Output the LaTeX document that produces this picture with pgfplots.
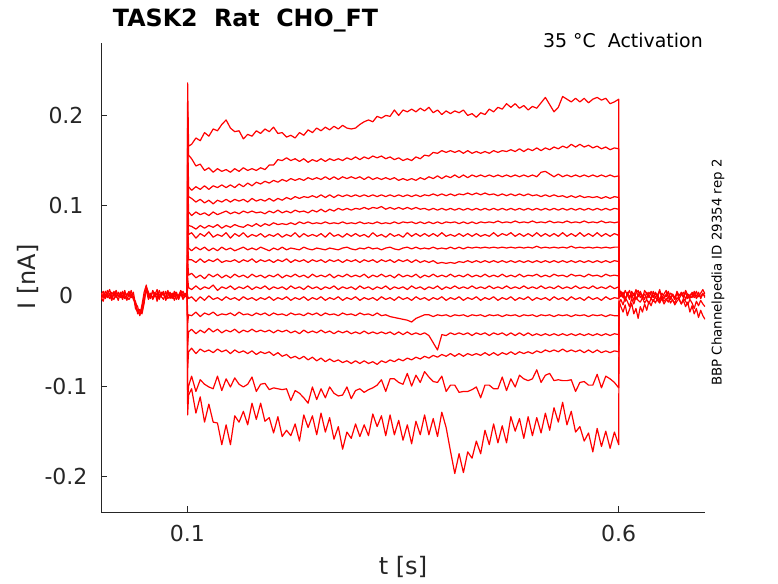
\documentclass[border=0pt]{standalone}
\usepackage{pgfplots}
\pgfplotsset{compat=1.18}
\usepackage{pgfplotstable}
\usepackage{fontspec}
\setmainfont{DejaVu Sans}
\definecolor{mgray}{rgb}{0.15,0.15,0.15}

\pgfplotstableread{
t T1 T2 T3 T4 T5 T6 T7 T8 T9 T10 T11 T12 T13 T14 T15 T16 T17
0.1000 0.002 -0.002 0.001 0.003 -0.001 0 0.002 -0.003 0.001 0 -0.002 0.003 -0.001 0.001 -0.002 0 0.002
0.1004 0.236 0.205 0.180 0.160 0.140 0.120 0.100 0.080 0.060 0.040 0.020 0 -0.030 -0.055 -0.080 -0.115 -0.132
0.1015 0.166 0.156 0.121 0.110 0.093 0.078 0.068 0.053 0.040 0.023 0.009 -0.003 -0.021 -0.040 -0.062 -0.100 -0.110
0.105 0.168 0.152 0.117 0.108 0.089 0.077 0.070 0.050 0.040 0.025 0.007 -0.001 -0.022 -0.037 -0.058 -0.089 -0.103
0.110 0.175 0.144 0.121 0.104 0.093 0.074 0.064 0.054 0.037 0.020 0.011 -0.006 -0.018 -0.042 -0.064 -0.106 -0.130
0.115 0.172 0.146 0.118 0.107 0.090 0.078 0.069 0.051 0.041 0.023 0.007 -0.001 -0.023 -0.038 -0.059 -0.093 -0.112
0.120 0.181 0.139 0.122 0.103 0.092 0.075 0.066 0.054 0.037 0.019 0.010 -0.005 -0.019 -0.041 -0.062 -0.098 -0.140
0.125 0.177 0.142 0.118 0.106 0.089 0.078 0.071 0.050 0.040 0.024 0.008 0 -0.021 -0.036 -0.060 -0.101 -0.120
0.130 0.185 0.137 0.122 0.102 0.093 0.076 0.065 0.053 0.038 0.021 0.012 -0.004 -0.018 -0.040 -0.063 -0.103 -0.140
0.135 0.183 0.141 0.120 0.106 0.090 0.079 0.068 0.050 0.041 0.024 0.006 -0.002 -0.022 -0.037 -0.059 -0.089 -0.141
0.140 0.190 0.138 0.123 0.104 0.092 0.075 0.066 0.054 0.037 0.020 0.010 -0.005 -0.020 -0.041 -0.062 -0.105 -0.165
0.145 0.195 0.140 0.120 0.107 0.094 0.078 0.070 0.051 0.039 0.023 0.008 -0.001 -0.021 -0.038 -0.060 -0.092 -0.143
0.150 0.186 0.137 0.123 0.104 0.091 0.076 0.064 0.053 0.038 0.020 0.011 -0.004 -0.019 -0.040 -0.064 -0.101 -0.165
0.155 0.182 0.141 0.120 0.107 0.093 0.079 0.069 0.050 0.040 0.024 0.007 -0.002 -0.022 -0.037 -0.060 -0.091 -0.133
0.160 0.183 0.138 0.124 0.105 0.091 0.077 0.066 0.052 0.037 0.021 0.010 -0.005 -0.018 -0.041 -0.063 -0.098 -0.140
0.165 0.174 0.142 0.121 0.107 0.094 0.076 0.070 0.054 0.040 0.023 0.008 -0.001 -0.021 -0.038 -0.061 -0.101 -0.128
0.170 0.179 0.139 0.125 0.104 0.092 0.079 0.065 0.051 0.038 0.020 0.011 -0.004 -0.020 -0.040 -0.064 -0.098 -0.143
0.175 0.177 0.141 0.122 0.108 0.094 0.077 0.068 0.053 0.041 0.024 0.007 -0.002 -0.022 -0.037 -0.061 -0.090 -0.119
0.180 0.183 0.139 0.126 0.105 0.092 0.080 0.066 0.051 0.037 0.021 0.010 -0.005 -0.019 -0.040 -0.065 -0.106 -0.137
0.185 0.180 0.142 0.124 0.107 0.093 0.077 0.069 0.054 0.040 0.023 0.008 -0.002 -0.021 -0.038 -0.062 -0.098 -0.119
0.190 0.185 0.140 0.127 0.105 0.091 0.080 0.065 0.052 0.038 0.020 0.011 -0.004 -0.019 -0.040 -0.064 -0.097 -0.139
0.195 0.182 0.145 0.125 0.108 0.094 0.078 0.068 0.050 0.040 0.023 0.007 -0.001 -0.022 -0.038 -0.062 -0.104 -0.135
0.200 0.187 0.145 0.128 0.105 0.092 0.081 0.066 0.053 0.037 0.021 0.010 -0.005 -0.019 -0.041 -0.066 -0.102 -0.152
0.205 0.180 0.151 0.126 0.108 0.095 0.079 0.069 0.051 0.040 0.024 0.008 -0.002 -0.021 -0.038 -0.063 -0.103 -0.134
0.210 0.181 0.150 0.129 0.106 0.092 0.080 0.065 0.054 0.038 0.020 0.010 -0.004 -0.020 -0.040 -0.067 -0.104 -0.156
0.215 0.176 0.153 0.127 0.109 0.094 0.079 0.068 0.051 0.041 0.023 0.007 -0.001 -0.022 -0.038 -0.065 -0.103 -0.149
0.220 0.178 0.150 0.130 0.107 0.092 0.081 0.066 0.053 0.037 0.021 0.011 -0.005 -0.019 -0.041 -0.069 -0.116 -0.155
0.225 0.175 0.152 0.128 0.110 0.095 0.079 0.070 0.052 0.040 0.024 0.008 -0.002 -0.021 -0.039 -0.067 -0.105 -0.142
0.230 0.181 0.149 0.130 0.108 0.093 0.082 0.065 0.051 0.038 0.021 0.010 -0.004 -0.020 -0.042 -0.070 -0.108 -0.161
0.235 0.178 0.152 0.128 0.110 0.094 0.080 0.069 0.054 0.040 0.023 0.007 -0.001 -0.022 -0.038 -0.067 -0.113 -0.132
0.240 0.184 0.148 0.131 0.109 0.092 0.082 0.066 0.052 0.037 0.020 0.011 -0.005 -0.019 -0.041 -0.071 -0.119 -0.146
0.245 0.181 0.151 0.129 0.111 0.095 0.080 0.068 0.051 0.040 0.024 0.008 -0.002 -0.021 -0.039 -0.068 -0.101 -0.133
0.250 0.186 0.149 0.131 0.109 0.093 0.081 0.066 0.053 0.038 0.021 0.010 -0.004 -0.019 -0.041 -0.072 -0.115 -0.154
0.255 0.183 0.152 0.129 0.112 0.096 0.080 0.069 0.052 0.040 0.023 0.007 -0.001 -0.022 -0.038 -0.069 -0.103 -0.130
0.260 0.187 0.149 0.132 0.109 0.093 0.082 0.065 0.051 0.037 0.021 0.010 -0.005 -0.019 -0.041 -0.073 -0.113 -0.151
0.265 0.184 0.152 0.129 0.112 0.096 0.080 0.070 0.053 0.040 0.024 0.008 -0.002 -0.021 -0.039 -0.070 -0.101 -0.135
0.270 0.188 0.150 0.132 0.109 0.094 0.081 0.066 0.052 0.038 0.020 0.011 -0.004 -0.020 -0.042 -0.073 -0.108 -0.159
0.275 0.185 0.152 0.129 0.112 0.097 0.080 0.068 0.051 0.040 0.023 0.007 -0.001 -0.022 -0.039 -0.071 -0.111 -0.145
0.280 0.189 0.150 0.132 0.110 0.095 0.082 0.065 0.053 0.037 0.021 0.010 -0.005 -0.019 -0.041 -0.074 -0.110 -0.170
0.285 0.186 0.153 0.130 0.112 0.097 0.080 0.069 0.054 0.040 0.024 0.008 -0.002 -0.021 -0.039 -0.072 -0.101 -0.151
0.290 0.185 0.151 0.132 0.110 0.095 0.081 0.066 0.052 0.038 0.021 0.010 -0.004 -0.020 -0.042 -0.075 -0.114 -0.158
0.295 0.186 0.154 0.130 0.112 0.097 0.080 0.069 0.051 0.040 0.023 0.007 -0.001 -0.022 -0.040 -0.072 -0.105 -0.142
0.300 0.190 0.151 0.132 0.110 0.096 0.082 0.066 0.053 0.037 0.021 0.011 -0.005 -0.019 -0.042 -0.075 -0.103 -0.156
0.305 0.193 0.154 0.129 0.112 0.098 0.080 0.068 0.052 0.040 0.024 0.008 -0.002 -0.021 -0.039 -0.072 -0.107 -0.143
0.310 0.195 0.152 0.132 0.110 0.096 0.081 0.065 0.054 0.038 0.020 0.010 -0.004 -0.020 -0.042 -0.075 -0.104 -0.155
0.315 0.193 0.155 0.129 0.112 0.098 0.080 0.070 0.052 0.040 0.023 0.007 -0.002 -0.022 -0.040 -0.073 -0.102 -0.131
0.320 0.199 0.153 0.131 0.110 0.097 0.082 0.066 0.053 0.037 0.021 0.010 -0.005 -0.019 -0.042 -0.076 -0.099 -0.145
0.325 0.197 0.155 0.129 0.112 0.099 0.080 0.068 0.051 0.040 0.024 0.008 -0.001 -0.022 -0.040 -0.072 -0.093 -0.133
0.330 0.200 0.152 0.131 0.110 0.096 0.081 0.065 0.053 0.038 0.021 0.011 -0.004 -0.021 -0.042 -0.074 -0.106 -0.155
0.335 0.199 0.154 0.129 0.112 0.098 0.080 0.069 0.054 0.040 0.023 0.007 -0.002 -0.023 -0.040 -0.071 -0.092 -0.132
0.340 0.206 0.151 0.131 0.110 0.096 0.082 0.066 0.052 0.037 0.020 0.010 -0.005 -0.024 -0.043 -0.073 -0.092 -0.154
0.345 0.200 0.153 0.128 0.112 0.098 0.080 0.068 0.051 0.040 0.024 0.008 -0.001 -0.025 -0.040 -0.070 -0.096 -0.138
0.350 0.206 0.150 0.130 0.110 0.096 0.082 0.065 0.053 0.038 0.021 0.010 -0.004 -0.026 -0.043 -0.072 -0.098 -0.160
0.355 0.204 0.152 0.128 0.112 0.098 0.081 0.070 0.054 0.040 0.023 0.007 -0.002 -0.027 -0.040 -0.069 -0.086 -0.143
0.360 0.207 0.150 0.130 0.110 0.096 0.082 0.066 0.052 0.037 0.021 0.011 -0.005 -0.029 -0.043 -0.071 -0.100 -0.164
0.365 0.204 0.154 0.128 0.112 0.098 0.080 0.069 0.054 0.040 0.024 0.008 -0.001 -0.025 -0.041 -0.068 -0.088 -0.139
0.370 0.208 0.152 0.131 0.110 0.096 0.082 0.066 0.052 0.037 0.020 0.010 -0.004 -0.023 -0.043 -0.070 -0.096 -0.154
0.375 0.205 0.156 0.129 0.112 0.097 0.080 0.069 0.053 0.039 0.023 0.007 -0.002 -0.021 -0.041 -0.067 -0.084 -0.132
0.380 0.209 0.155 0.132 0.111 0.095 0.082 0.066 0.052 0.037 0.021 0.010 -0.005 -0.021 -0.044 -0.069 -0.090 -0.154
0.385 0.203 0.159 0.130 0.113 0.097 0.080 0.069 0.054 0.039 0.024 0.008 -0.002 -0.023 -0.052 -0.066 -0.095 -0.136
0.390 0.206 0.158 0.133 0.111 0.095 0.082 0.066 0.052 0.036 0.021 0.011 -0.004 -0.021 -0.060 -0.068 -0.096 -0.156
0.395 0.201 0.161 0.130 0.113 0.097 0.080 0.070 0.053 0.037 0.023 0.007 -0.001 -0.022 -0.043 -0.065 -0.089 -0.129
0.400 0.205 0.159 0.133 0.111 0.095 0.082 0.066 0.052 0.036 0.021 0.010 -0.005 -0.021 -0.044 -0.067 -0.106 -0.146
0.405 0.202 0.161 0.131 0.113 0.097 0.081 0.068 0.054 0.037 0.024 0.008 -0.002 -0.023 -0.041 -0.064 -0.099 -0.172
0.410 0.205 0.159 0.134 0.111 0.095 0.082 0.066 0.052 0.036 0.021 0.011 -0.004 -0.021 -0.043 -0.067 -0.099 -0.197
0.415 0.203 0.161 0.131 0.113 0.097 0.080 0.069 0.054 0.038 0.023 0.008 -0.001 -0.022 -0.041 -0.064 -0.107 -0.175
0.420 0.206 0.158 0.134 0.112 0.095 0.082 0.066 0.052 0.037 0.021 0.010 -0.005 -0.021 -0.043 -0.067 -0.106 -0.196
0.425 0.200 0.161 0.131 0.114 0.097 0.080 0.069 0.054 0.039 0.024 0.008 -0.002 -0.023 -0.041 -0.064 -0.106 -0.173
0.430 0.202 0.158 0.134 0.112 0.095 0.082 0.066 0.053 0.037 0.021 0.011 -0.004 -0.021 -0.044 -0.066 -0.104 -0.180
0.435 0.198 0.160 0.132 0.114 0.097 0.080 0.069 0.054 0.039 0.023 0.008 -0.001 -0.022 -0.041 -0.064 -0.101 -0.161
0.440 0.203 0.158 0.134 0.112 0.095 0.082 0.066 0.053 0.037 0.021 0.010 -0.005 -0.021 -0.043 -0.066 -0.113 -0.175
0.445 0.201 0.160 0.132 0.114 0.097 0.081 0.068 0.054 0.039 0.024 0.008 -0.002 -0.023 -0.041 -0.063 -0.099 -0.149
0.450 0.207 0.158 0.134 0.112 0.095 0.082 0.066 0.053 0.037 0.021 0.011 -0.004 -0.021 -0.044 -0.066 -0.099 -0.165
0.455 0.204 0.161 0.132 0.113 0.097 0.081 0.070 0.054 0.039 0.023 0.008 -0.001 -0.022 -0.041 -0.063 -0.103 -0.142
0.460 0.209 0.159 0.134 0.111 0.095 0.083 0.066 0.053 0.037 0.021 0.010 -0.005 -0.021 -0.043 -0.066 -0.103 -0.163
0.465 0.207 0.161 0.132 0.113 0.097 0.081 0.069 0.054 0.039 0.024 0.008 -0.002 -0.023 -0.041 -0.063 -0.090 -0.144
0.470 0.213 0.160 0.134 0.111 0.095 0.082 0.067 0.053 0.037 0.021 0.011 -0.004 -0.021 -0.044 -0.065 -0.105 -0.163
0.475 0.209 0.162 0.132 0.113 0.097 0.081 0.070 0.054 0.039 0.023 0.008 -0.001 -0.022 -0.041 -0.062 -0.092 -0.134
0.480 0.213 0.160 0.134 0.111 0.095 0.083 0.066 0.053 0.037 0.021 0.010 -0.005 -0.021 -0.044 -0.065 -0.101 -0.150
0.485 0.208 0.163 0.132 0.113 0.097 0.081 0.069 0.054 0.039 0.024 0.008 -0.002 -0.023 -0.041 -0.062 -0.088 -0.136
0.490 0.211 0.160 0.134 0.111 0.095 0.082 0.066 0.053 0.037 0.021 0.011 -0.004 -0.021 -0.044 -0.064 -0.092 -0.158
0.495 0.206 0.163 0.132 0.113 0.097 0.081 0.069 0.054 0.039 0.023 0.008 -0.001 -0.022 -0.041 -0.062 -0.094 -0.134
0.500 0.210 0.161 0.134 0.111 0.095 0.083 0.066 0.053 0.037 0.022 0.010 -0.005 -0.021 -0.044 -0.064 -0.092 -0.155
0.505 0.208 0.164 0.132 0.112 0.097 0.081 0.070 0.055 0.039 0.024 0.008 -0.002 -0.023 -0.042 -0.061 -0.082 -0.135
0.510 0.214 0.161 0.137 0.110 0.095 0.082 0.066 0.053 0.037 0.021 0.011 -0.004 -0.021 -0.044 -0.063 -0.096 -0.152
0.515 0.220 0.164 0.138 0.112 0.097 0.081 0.069 0.054 0.039 0.023 0.008 -0.002 -0.022 -0.042 -0.060 -0.088 -0.130
0.520 0.212 0.162 0.135 0.110 0.095 0.083 0.066 0.053 0.037 0.021 0.010 -0.005 -0.021 -0.044 -0.062 -0.086 -0.149
0.525 0.204 0.165 0.132 0.112 0.097 0.081 0.069 0.054 0.039 0.024 0.008 -0.001 -0.023 -0.042 -0.060 -0.094 -0.124
0.530 0.209 0.163 0.135 0.110 0.095 0.082 0.066 0.053 0.037 0.022 0.011 -0.004 -0.021 -0.044 -0.062 -0.093 -0.140
0.535 0.221 0.166 0.132 0.111 0.097 0.081 0.070 0.054 0.039 0.023 0.008 -0.002 -0.022 -0.042 -0.059 -0.094 -0.118
0.540 0.218 0.164 0.134 0.109 0.095 0.083 0.066 0.053 0.037 0.021 0.010 -0.005 -0.021 -0.044 -0.062 -0.094 -0.143
0.545 0.215 0.168 0.132 0.111 0.097 0.081 0.069 0.055 0.039 0.024 0.008 -0.001 -0.023 -0.042 -0.060 -0.093 -0.128
0.550 0.219 0.165 0.134 0.109 0.095 0.082 0.066 0.053 0.037 0.022 0.011 -0.004 -0.021 -0.044 -0.062 -0.106 -0.151
0.555 0.215 0.168 0.132 0.111 0.097 0.081 0.070 0.054 0.039 0.023 0.008 -0.002 -0.022 -0.042 -0.060 -0.096 -0.145
0.560 0.219 0.165 0.134 0.109 0.095 0.083 0.066 0.053 0.037 0.021 0.010 -0.005 -0.021 -0.044 -0.063 -0.095 -0.161
0.565 0.214 0.167 0.132 0.110 0.097 0.081 0.069 0.054 0.039 0.024 0.008 -0.001 -0.023 -0.042 -0.060 -0.099 -0.152
0.570 0.218 0.164 0.134 0.109 0.095 0.082 0.066 0.053 0.037 0.022 0.011 -0.004 -0.021 -0.044 -0.063 -0.099 -0.173
0.575 0.220 0.166 0.132 0.110 0.097 0.081 0.070 0.054 0.039 0.023 0.008 -0.002 -0.022 -0.042 -0.060 -0.087 -0.147
0.580 0.217 0.163 0.134 0.108 0.095 0.083 0.066 0.053 0.037 0.021 0.010 -0.005 -0.021 -0.044 -0.063 -0.102 -0.167
0.585 0.219 0.165 0.132 0.110 0.097 0.081 0.069 0.054 0.039 0.024 0.008 -0.001 -0.023 -0.042 -0.061 -0.089 -0.150
0.590 0.213 0.162 0.134 0.108 0.095 0.082 0.066 0.053 0.037 0.022 0.011 -0.004 -0.021 -0.044 -0.063 -0.092 -0.169
0.595 0.215 0.164 0.132 0.110 0.097 0.081 0.069 0.054 0.039 0.023 0.008 -0.002 -0.022 -0.042 -0.061 -0.096 -0.151
0.600 0.218 0.163 0.133 0.109 0.096 0.082 0.067 0.054 0.038 0.022 0.010 -0.003 -0.022 -0.043 -0.062 -0.102 -0.165
0.6004 0.006 0.004 0.002 0.005 0 0.003 -0.002 0.004 0.001 -0.001 0.003 0 -0.004 -0.006 -0.008 -0.012 -0.015
}\maintab

\pgfplotstableread{
t B1 B2 B3 B4
0.0000 0.003 -0.004 0.001 -0.001
0.0025 -0.002 0.002 0.005 -0.006
0.0050 0.005 -0.001 -0.003 0.002
0.0075 0.001 0.006 0.002 -0.002
0.0100 -0.003 0.001 0.007 0.003
0.0125 0.004 -0.005 -0.001 -0.004
0.0150 0 0.003 -0.004 0.005
0.0175 0.006 -0.002 0.003 0.001
0.0200 -0.001 0.004 0.001 -0.005
0.0225 0.002 0 -0.002 0.004
0.0250 -0.004 0.005 0.004 -0.001
0.0275 0.003 -0.003 0 0.006
0.0300 0.001 0.002 -0.005 -0.002
0.0325 0.005 -0.001 0.003 -0.004
0.0350 -0.002 0.006 0.002 0
0.0375 0 -0.004 -0.003 0.004
0.0400 -0.014 -0.008 -0.006 -0.010
0.0425 -0.018 -0.012 -0.020 -0.017
0.0450 -0.016 -0.022 -0.015 -0.021
0.0475 -0.020 -0.010 -0.018 -0.014
0.0500 -0.008 0.004 -0.006 0
0.0525 0.010 0.012 0.008 0.006
0.0550 0.004 -0.002 0.002 -0.004
0.0575 -0.001 0.003 -0.003 0.001
0.0600 0.005 -0.004 0.006 -0.002
0.0625 0.002 0.001 -0.001 0.004
0.0650 -0.003 0.007 0.003 -0.006
0.0675 0.006 -0.003 -0.004 0.002
0.0700 0 0.002 0.004 -0.001
0.0725 0.003 0.005 0.001 -0.004
0.0750 -0.002 -0.005 -0.002 0.005
0.0775 0.004 0 0.006 -0.003
0.0800 0.001 0.004 -0.003 0
0.0825 -0.003 -0.002 0.002 0.003
0.0850 0.005 0.003 -0.001 -0.005
0.0875 0.002 -0.004 0.004 0.001
0.0900 -0.001 0.001 -0.004 -0.002
0.0925 0.006 0.005 0.002 0.003
0.0950 0 -0.003 0.005 -0.004
0.0975 0.003 0.002 -0.001 0
0.1000 -0.002 0 0.001 -0.001
}\pretab

\pgfplotstableread{
t P1 P2 P3 P4 P5
0.6004 0.008 -0.003 -0.006 0.002 -0.008
0.6025 0.003 0.005 -0.012 -0.001 -0.004
0.6050 -0.002 0 -0.018 0.004 -0.010
0.6075 0.006 -0.006 -0.010 -0.003 -0.002
0.6100 0.001 0.004 -0.022 0.001 -0.006
0.6125 -0.004 -0.001 -0.015 0.006 -0.012
0.6150 0.005 0.002 -0.008 -0.002 -0.003
0.6175 0 -0.005 -0.020 0.003 -0.009
0.6200 0.007 0.003 -0.014 -0.004 -0.001
0.6225 -0.001 0.006 -0.025 0 -0.005
0.6250 0.003 -0.002 -0.012 0.005 -0.007
0.6275 -0.003 0.001 -0.018 -0.001 -0.002
0.6300 0.006 -0.004 -0.009 0.002 -0.008
0.6325 0.002 0.004 -0.016 -0.003 -0.004
0.6350 -0.002 0 -0.006 0.004 -0.009
0.6375 0.005 -0.003 -0.011 0.001 -0.003
0.6400 -0.001 0.005 -0.004 -0.002 -0.006
0.6425 0.004 -0.002 -0.008 0.003 -0.001
0.6450 0 0.002 -0.002 -0.001 -0.005
0.6475 0.007 -0.005 -0.007 0.005 -0.008
0.6500 -0.003 0.003 -0.003 0 -0.002
0.6525 0.002 0 -0.009 -0.003 -0.006
0.6550 0.006 -0.001 -0.005 0.002 -0.003
0.6575 -0.002 0.005 -0.001 0.004 -0.007
0.6600 0.003 -0.004 -0.008 -0.002 -0.001
0.6625 0.001 0.002 -0.004 0.001 -0.005
0.6650 -0.004 -0.002 -0.010 -0.004 -0.008
0.6675 0.005 0.003 -0.006 0.003 -0.002
0.6700 0 -0.003 -0.003 0 -0.004
0.6725 0.004 0.001 -0.009 0.002 -0.009
0.6750 -0.002 0.004 -0.005 -0.001 -0.003
0.6775 0.006 -0.004 -0.012 0.004 -0.006
0.6800 0.001 0.002 -0.007 -0.003 -0.010
0.6825 -0.003 0 -0.018 0.001 -0.004
0.6850 0.004 -0.002 -0.011 0.003 -0.008
0.6875 0 0.005 -0.020 -0.002 -0.014
0.6900 0.005 -0.003 -0.014 0 -0.006
0.6925 -0.001 0.001 -0.024 0.004 -0.011
0.6950 0.003 -0.001 -0.016 -0.003 -0.005
0.6975 0.007 0.003 -0.022 0.002 -0.009
0.7000 0.002 -0.002 -0.026 0 -0.012
}\posttab

\begin{document}
\begin{tikzpicture}
\path[use as bounding box] (0,0) rectangle (583.5pt,437.25pt);
\begin{axis}[
  at={(75.75pt,53pt)}, anchor=south west,
  scale only axis, width=453pt, height=351.8pt,
  xmin=0, xmax=0.7, ymin=-0.24, ymax=0.28,
  axis x line*=bottom, axis y line*=left,
  axis line style={-, draw=mgray, line width=0.6pt},
  every inner x axis line/.append style={-},
  every outer x axis line/.append style={-},
  every inner y axis line/.append style={-},
  every outer y axis line/.append style={-},
  xtick={0.1,0.6}, xticklabels={0.1,0.6},
  ytick={-0.2,-0.1,0,0.1,0.2}, yticklabels={-0.2,-0.1,0,0.1,0.2},
  tick align=inside, major tick length=4.5pt,
  tick style={draw=mgray, line width=0.6pt},
  every tick label/.append style={font=\fontsize{16.5}{16.5}\selectfont, text=mgray},
  xticklabel style={anchor=north, inner sep=0pt, yshift=-9.5pt},
  yticklabel style={anchor=center, inner sep=0pt, xshift=-26.25pt},
]
\pgfplotsinvokeforeach{1,...,17}{
  \addplot[red, line width=0.9pt, mark=none, line join=round] table[x=t, y=T#1]{\maintab};
}
\pgfplotsinvokeforeach{1,...,4}{
  \addplot[red, line width=0.9pt, mark=none, line join=round] table[x=t, y=B#1]{\pretab};
}
\pgfplotsinvokeforeach{1,...,5}{
  \addplot[red, line width=0.9pt, mark=none, line join=round] table[x=t, y=P#1]{\posttab};
}
\end{axis}
\node[anchor=base west, inner sep=0pt, font=\bfseries\fontsize{17.8}{17.8}\selectfont] at (84.5pt,417.2pt) {TASK2\ \ Rat\ \ CHO\_FT};
\node[anchor=base east, inner sep=0pt, font=\fontsize{14.2}{14.2}\selectfont] at (527.25pt,401.5pt) {35 °C\ \ Activation};
\node[rotate=90, anchor=base, inner sep=0pt, font=\fontsize{10}{10}\selectfont] at (541.3pt,232.8pt) {BBP Channelpedia ID 29354 rep 2};
\node[rotate=90, anchor=base, inner sep=0pt, text=mgray, font=\fontsize{18}{18}\selectfont] at (26.9pt,229.5pt) {I [nA]};
\node[anchor=base, inner sep=0pt, text=mgray, font=\fontsize{18}{18}\selectfont] at (302.25pt,6.1pt) {t [s]};
\end{tikzpicture}
\end{document}
